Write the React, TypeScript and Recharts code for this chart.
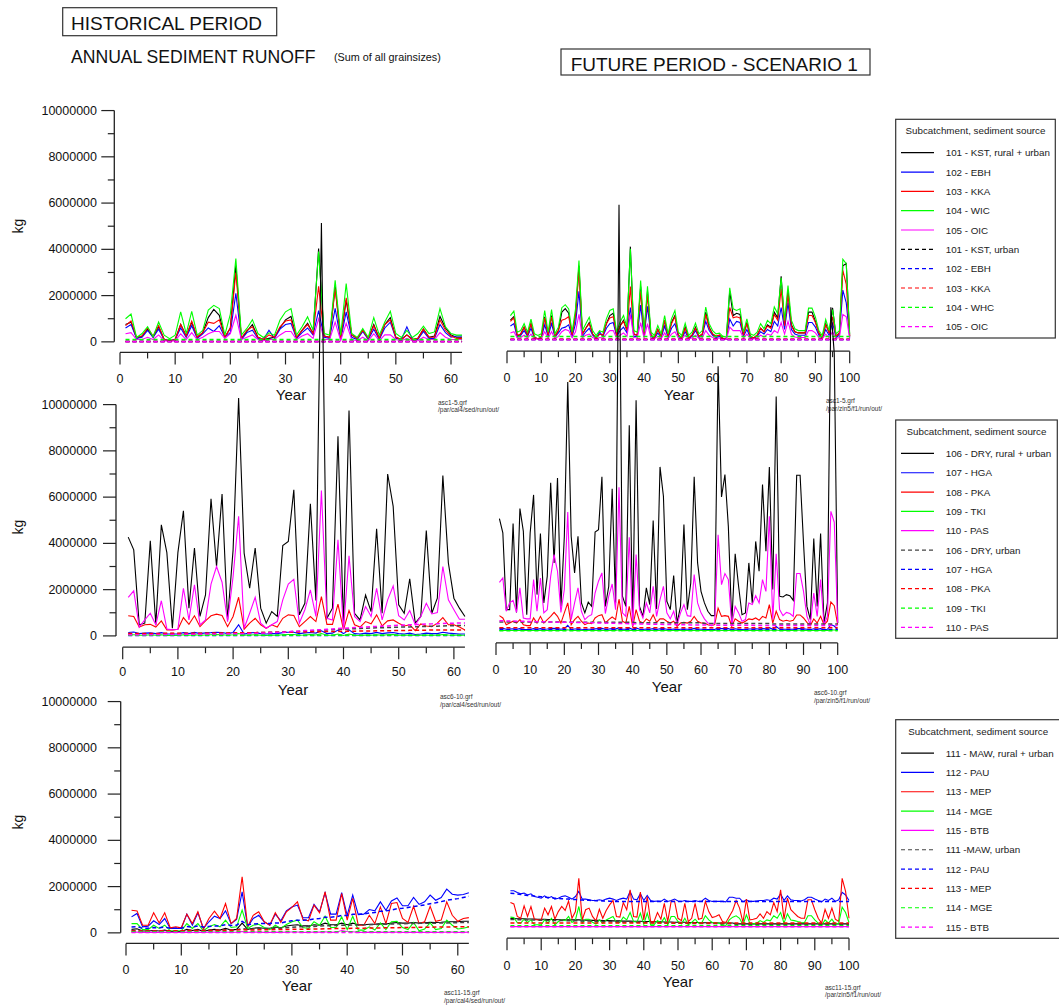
import React from 'react';
import { LineChart, Line, XAxis, YAxis, ReferenceLine } from 'recharts';

const FONT = '"Liberation Sans", Arial, Helvetica, sans-serif';

// ---------- categories ----------
const histYears = Array.from({ length: 62 }, (_, i) => i + 1);
const futYears = Array.from({ length: 100 }, (_, i) => i + 1);
const histXTicks = [0, 5, 10, 15, 20, 25, 30, 35, 40, 45, 50, 55, 60];
const futXTicks = [0, 5, 10, 15, 20, 25, 30, 35, 40, 45, 50, 55, 60, 65, 70, 75, 80, 85, 90, 95, 100];
const yTicks = [0, 1, 2, 3, 4, 5, 6, 7, 8, 9, 10]; // million kg
const yTickLabels = ['0', '2000000', '4000000', '6000000', '8000000', '10000000'];

// ---------- values (million kg) ----------
// Panel 1 historical: 101-105
const h1KST = [0.75,0.85,0.15,0.25,0.55,0.2,0.65,0.1,0.05,0.1,0.75,0.25,0.85,0.2,0.4,1.05,1.4,1.15,0.2,0.6,3.3,0.15,0.45,0.75,0.2,0.1,0.15,0.2,0.6,0.95,1.1,0.15,0.5,0.8,0.35,4.03,0.25,0.2,2.4,0.15,1.8,0.3,0.15,0.5,0.15,0.75,0.15,0.75,1.05,0.2,0.1,0.3,0.1,0.15,0.55,0.2,0.25,1.1,0.6,0.3,0.2,0.2];
const h1EBH = [0.6,0.75,0.15,0.2,0.5,0.2,0.55,0.1,0.05,0.1,0.6,0.2,0.7,0.15,0.35,0.6,0.45,0.7,0.2,0.4,2.1,0.1,0.4,0.5,0.15,0.1,0.5,0.15,0.55,0.75,0.8,0.15,0.4,0.6,0.3,1.35,0.2,0.15,1.45,0.1,1.3,0.2,0.1,0.45,0.1,0.55,0.1,0.6,0.85,0.15,0.1,0.65,0.1,0.1,0.45,0.15,0.15,0.75,0.4,0.2,0.25,0.25];
const h1KKA = [0.7,0.9,0.2,0.25,0.6,0.25,0.7,0.1,0.05,0.1,0.75,0.25,0.9,0.2,0.4,0.85,0.8,0.95,0.2,0.6,3.0,0.15,0.5,0.65,0.2,0.1,0.3,0.2,0.65,0.9,0.95,0.2,0.5,0.75,0.35,2.4,0.25,0.2,2.3,0.15,1.9,0.3,0.15,0.5,0.15,0.7,0.15,0.75,0.95,0.2,0.1,0.3,0.1,0.15,0.55,0.2,0.2,0.95,0.5,0.25,0.15,0.15];
const h1WIC = [1.0,1.2,0.19,0.36,0.65,0.22,0.86,0.29,0.14,0.29,1.3,0.36,1.32,0.29,0.5,1.37,1.58,1.44,0.29,1.2,3.6,0.29,0.58,0.96,0.36,0.19,0.39,0.29,0.94,1.3,1.44,0.29,0.65,1.08,0.5,3.9,0.36,0.29,2.66,0.29,2.52,0.36,0.19,0.58,0.19,1.05,0.29,0.86,1.32,0.36,0.19,0.5,0.19,0.36,0.68,0.36,0.43,1.44,0.65,0.36,0.29,0.29];
const h1OIC = [0.35,0.4,0.1,0.1,0.2,0.1,0.3,0.05,0.02,0.05,0.35,0.1,0.4,0.1,0.2,0.35,0.45,0.45,0.15,0.35,1.15,0.1,0.2,0.3,0.1,0.05,0.1,0.1,0.3,0.45,0.45,0.1,0.25,0.35,0.15,1.0,0.1,0.1,0.85,0.05,0.8,0.1,0.05,0.2,0.05,0.35,0.05,0.3,0.3,0.1,0.05,0.15,0.05,0.05,0.2,0.1,0.1,0.4,0.2,0.1,0.1,0.1];
const h1KSTu = [0.02,0.02,0.02,0.02,0.02,0.02,0.02,0.02,0.02,0.02,0.02,0.02,0.02,0.02,0.02,0.02,0.02,0.02,0.02,0.02,0.02,0.02,0.02,0.02,0.02,0.02,0.02,0.02,0.02,0.02,0.02,0.02,0.02,0.02,0.02,0.02,0.02,0.02,0.02,0.02,0.02,0.02,0.02,0.02,0.02,0.02,0.02,0.02,0.02,0.02,0.02,0.02,0.02,0.02,0.02,0.02,0.02,0.02,0.02,0.02,0.02,0.02];
const h1EBHu = [0.01,0.01,0.01,0.01,0.01,0.01,0.01,0.01,0.01,0.01,0.01,0.01,0.01,0.01,0.01,0.01,0.01,0.01,0.01,0.01,0.01,0.01,0.01,0.01,0.01,0.01,0.01,0.01,0.01,0.01,0.01,0.01,0.01,0.01,0.01,0.01,0.01,0.01,0.01,0.01,0.01,0.01,0.01,0.01,0.01,0.01,0.01,0.01,0.01,0.01,0.01,0.01,0.01,0.01,0.01,0.01,0.01,0.01,0.01,0.01,0.01,0.01];
const h1KKAu = [0.02,0.02,0.02,0.02,0.02,0.02,0.02,0.02,0.02,0.02,0.02,0.02,0.02,0.02,0.02,0.02,0.02,0.02,0.02,0.02,0.02,0.02,0.02,0.02,0.02,0.02,0.02,0.02,0.02,0.02,0.02,0.02,0.02,0.02,0.02,0.02,0.02,0.02,0.02,0.02,0.02,0.02,0.02,0.02,0.02,0.02,0.02,0.02,0.02,0.02,0.02,0.02,0.02,0.02,0.02,0.02,0.02,0.02,0.02,0.02,0.02,0.02];
const h1WHCu = [0.1,0.1,0.1,0.1,0.1,0.1,0.1,0.1,0.1,0.1,0.1,0.1,0.1,0.1,0.1,0.1,0.1,0.1,0.1,0.1,0.1,0.1,0.1,0.1,0.1,0.1,0.1,0.1,0.1,0.1,0.1,0.1,0.1,0.1,0.1,0.1,0.1,0.1,0.1,0.1,0.1,0.1,0.1,0.1,0.1,0.1,0.1,0.1,0.1,0.1,0.1,0.1,0.1,0.1,0.1,0.1,0.1,0.1,0.1,0.1,0.1,0.1];
const h1OICu = [0,0,0,0,0,0,0,0,0,0,0,0,0,0,0,0,0,0,0,0,0,0,0,0,0,0,0,0,0,0,0,0,0,0,0,0,0,0,0,0,0,0,0,0,0,0,0,0,0,0,0,0,0,0,0,0,0,0,0,0,0,0];

// Panel 1 future
const f1KST = [0.85,1.0,0.15,0.25,0.55,0.2,0.7,0.1,0.05,0.1,1.0,0.2,1.05,0.15,0.4,1.2,1.35,1.15,0.2,1.1,3.2,0.25,0.5,0.75,0.25,0.08,0.25,0.2,0.7,1.05,1.15,0.2,0.6,0.85,0.4,4.03,0.25,0.2,2.3,0.2,2.1,0.2,0.08,0.45,0.15,0.85,0.15,0.75,1.05,0.2,0.08,0.55,0.08,0.2,0.55,0.15,0.25,1.2,0.55,0.25,0.15,0.2,0.05,0.03,2.1,1.05,1.15,1.1,0.2,0.75,0.15,0.08,0.2,0.5,0.35,0.65,0.55,1.2,0.95,2.75,0.65,2.1,0.65,0.35,0.3,0.3,0.3,1.2,1.2,0.8,0.3,0.08,0.7,0.3,1.38,0.15,0.3,3.2,3.3,0.15];
const f1EBH = [0.6,0.7,0.12,0.2,0.4,0.15,0.5,0.08,0.05,0.08,0.65,0.15,0.7,0.12,0.3,0.5,0.55,0.65,0.15,0.7,2.1,0.15,0.35,0.5,0.2,0.06,0.35,0.15,0.5,0.7,0.75,0.15,0.4,0.55,0.3,1.4,0.15,0.15,1.5,0.15,1.45,0.15,0.06,0.3,0.1,0.6,0.1,0.5,0.7,0.15,0.06,0.35,0.06,0.15,0.4,0.1,0.2,0.8,0.4,0.2,0.1,0.15,0.04,0.03,0.9,0.6,0.8,0.75,0.15,0.45,0.1,0.06,0.15,0.35,0.25,0.45,0.35,0.8,0.6,1.4,0.45,1.6,0.45,0.25,0.2,0.2,0.2,0.75,0.75,0.55,0.2,0.06,0.45,0.2,0.75,0.1,0.2,2.15,1.6,0.1];
const f1KKA = [0.8,0.95,0.2,0.25,0.55,0.2,0.7,0.1,0.05,0.1,0.95,0.2,1.0,0.15,0.4,0.85,0.9,1.0,0.2,1.05,3.0,0.25,0.5,0.7,0.25,0.08,0.25,0.2,0.7,0.95,1.0,0.2,0.6,0.8,0.4,2.3,0.25,0.2,2.1,0.2,1.95,0.2,0.08,0.45,0.15,0.85,0.15,0.7,1.0,0.2,0.08,0.5,0.08,0.2,0.5,0.15,0.25,1.1,0.5,0.25,0.15,0.2,0.05,0.03,1.4,0.95,1.0,0.95,0.2,0.7,0.15,0.08,0.2,0.5,0.35,0.6,0.5,1.1,0.85,2.2,0.6,2.0,0.6,0.35,0.3,0.3,0.3,1.05,1.05,0.75,0.3,0.08,0.65,0.3,1.0,0.15,0.3,3.0,2.4,0.15];
const f1WIC = [1.05,1.24,0.33,0.4,0.7,0.33,0.9,0.26,0.19,0.26,1.27,0.33,1.31,0.26,0.55,1.39,1.52,1.34,0.33,1.34,3.43,0.4,0.7,0.98,0.4,0.19,0.4,0.33,0.91,1.27,1.34,0.33,0.77,1.05,0.55,3.94,0.4,0.33,2.57,0.33,2.32,0.33,0.19,0.62,0.26,1.05,0.26,0.91,1.27,0.33,0.19,0.72,0.19,0.33,0.72,0.26,0.4,1.42,0.7,0.4,0.26,0.29,0.15,0.12,2.25,1.34,1.27,1.34,0.33,0.91,0.26,0.19,0.33,0.7,0.48,0.84,0.7,1.42,1.13,2.68,0.84,2.35,0.84,0.48,0.4,0.4,0.4,1.37,1.37,0.98,0.4,0.19,0.88,0.4,1.31,0.26,0.4,3.48,3.29,0.26];
const f1OIC = [0.3,0.35,0.08,0.1,0.2,0.08,0.25,0.05,0.03,0.05,0.35,0.08,0.35,0.06,0.15,0.35,0.45,0.4,0.1,0.35,1.1,0.1,0.2,0.25,0.1,0.04,0.1,0.08,0.25,0.4,0.4,0.08,0.2,0.3,0.15,1.1,0.1,0.08,0.75,0.08,0.7,0.08,0.04,0.15,0.06,0.3,0.06,0.25,0.35,0.08,0.04,0.2,0.04,0.08,0.2,0.06,0.1,0.4,0.2,0.1,0.06,0.08,0.03,0.02,0.55,0.4,0.4,0.4,0.08,0.25,0.06,0.04,0.08,0.2,0.12,0.25,0.2,0.4,0.3,0.75,0.25,0.8,0.25,0.12,0.1,0.1,0.1,0.4,0.4,0.3,0.1,0.04,0.25,0.1,0.35,0.06,0.1,1.1,1.0,0.06];
const f1KSTu = [0.02,0.02,0.02,0.02,0.02,0.02,0.02,0.02,0.02,0.02,0.02,0.02,0.02,0.02,0.02,0.02,0.02,0.02,0.02,0.02,0.02,0.02,0.02,0.02,0.02,0.02,0.02,0.02,0.02,0.02,0.02,0.02,0.02,0.02,0.02,0.02,0.02,0.02,0.02,0.02,0.02,0.02,0.02,0.02,0.02,0.02,0.02,0.02,0.02,0.02,0.02,0.02,0.02,0.02,0.02,0.02,0.02,0.02,0.02,0.02,0.02,0.02,0.02,0.02,0.02,0.02,0.02,0.02,0.02,0.02,0.02,0.02,0.02,0.02,0.02,0.02,0.02,0.02,0.02,0.02,0.02,0.02,0.02,0.02,0.02,0.02,0.02,0.02,0.02,0.02,0.02,0.02,0.02,0.02,0.02,0.02,0.02,0.02,0.02,0.02];
const f1EBHu = [0.02,0.02,0.02,0.02,0.02,0.02,0.02,0.02,0.02,0.02,0.02,0.02,0.02,0.02,0.02,0.02,0.02,0.02,0.02,0.02,0.02,0.02,0.02,0.02,0.02,0.02,0.02,0.02,0.02,0.02,0.02,0.02,0.02,0.02,0.02,0.02,0.02,0.02,0.02,0.02,0.02,0.02,0.02,0.02,0.02,0.02,0.02,0.02,0.02,0.02,0.02,0.02,0.02,0.02,0.02,0.02,0.02,0.02,0.02,0.02,0.02,0.02,0.02,0.02,0.02,0.02,0.02,0.02,0.02,0.02,0.02,0.02,0.02,0.02,0.02,0.02,0.02,0.02,0.02,0.02,0.02,0.02,0.02,0.02,0.02,0.02,0.02,0.02,0.02,0.02,0.02,0.02,0.02,0.02,0.02,0.02,0.02,0.02,0.02,0.02];
const f1KKAu = [0.03,0.03,0.03,0.03,0.03,0.03,0.03,0.03,0.03,0.03,0.03,0.03,0.03,0.03,0.03,0.03,0.03,0.03,0.03,0.03,0.03,0.03,0.03,0.03,0.03,0.03,0.03,0.03,0.03,0.03,0.03,0.03,0.03,0.03,0.03,0.03,0.03,0.03,0.03,0.03,0.03,0.03,0.03,0.03,0.03,0.03,0.03,0.03,0.03,0.03,0.03,0.03,0.03,0.03,0.03,0.03,0.03,0.03,0.03,0.03,0.03,0.03,0.03,0.03,0.03,0.03,0.03,0.03,0.03,0.03,0.03,0.03,0.03,0.03,0.03,0.03,0.03,0.03,0.03,0.03,0.03,0.03,0.03,0.03,0.03,0.03,0.03,0.03,0.03,0.03,0.03,0.03,0.03,0.03,0.03,0.03,0.03,0.03,0.03,0.03];
const f1WHCu = [0.15,0.15,0.15,0.15,0.15,0.15,0.15,0.15,0.15,0.15,0.15,0.15,0.15,0.15,0.15,0.15,0.15,0.15,0.15,0.15,0.15,0.15,0.15,0.15,0.15,0.15,0.15,0.15,0.15,0.15,0.15,0.15,0.15,0.15,0.15,0.15,0.15,0.15,0.15,0.15,0.15,0.15,0.15,0.15,0.15,0.15,0.15,0.15,0.15,0.15,0.15,0.15,0.15,0.15,0.15,0.15,0.15,0.15,0.15,0.15,0.15,0.15,0.15,0.15,0.15,0.15,0.15,0.15,0.15,0.15,0.15,0.15,0.15,0.15,0.15,0.15,0.15,0.15,0.15,0.15,0.15,0.15,0.15,0.15,0.15,0.15,0.15,0.15,0.15,0.15,0.15,0.15,0.15,0.15,0.15,0.15,0.15,0.15,0.15,0.15];
const f1OICu = [0,0,0,0,0,0,0,0,0,0,0,0,0,0,0,0,0,0,0,0,0,0,0,0,0,0,0,0,0,0,0,0,0,0,0,0,0,0,0,0,0,0,0,0,0,0,0,0,0,0,0,0,0,0,0,0,0,0,0,0,0,0,0,0,0,0,0,0,0,0,0,0,0,0,0,0,0,0,0,0,0,0,0,0,0,0,0,0,0,0,0,0,0,0,0,0,0,0,0,0];

// Panel 2 historical: 106-110
const h2DRY = [4.27,3.72,0.48,0.55,4.11,0.48,4.8,3.6,0.33,3.6,5.41,1.2,3.8,0.84,1.77,5.93,3.0,6.13,0.69,3.72,10.29,3.58,2.06,3.8,1.2,0.55,1.05,0.84,3.91,4.08,6.32,0.91,1.41,5.71,1.53,17.85,0.76,1.2,8.63,0.4,9.74,0.98,0.69,1.77,1.05,4.63,0.98,7.0,5.6,1.34,0.98,2.47,0.55,0.84,4.56,0.98,1.63,6.93,3.15,1.63,1.2,0.84];
const h2HGA = [0.15,0.17,0.1,0.12,0.13,0.1,0.14,0.08,0.08,0.08,0.14,0.1,0.15,0.1,0.13,0.14,0.16,0.15,0.1,0.15,0.48,0.08,0.13,0.15,0.1,0.08,0.1,0.1,0.14,0.16,0.16,0.1,0.13,0.15,0.12,0.22,0.1,0.12,0.25,0.1,0.26,0.1,0.08,0.12,0.1,0.15,0.1,0.13,0.15,0.1,0.08,0.12,0.06,0.08,0.12,0.1,0.1,0.16,0.12,0.1,0.08,0.08];
const h2PKA = [0.87,0.84,0.38,0.48,0.5,0.38,0.65,0.26,0.26,0.29,0.79,0.5,0.87,0.4,0.65,0.87,0.94,0.88,0.4,0.84,1.67,0.29,0.55,0.76,0.48,0.33,0.48,0.38,0.76,0.91,0.88,0.4,0.62,0.84,0.62,1.7,0.5,0.5,1.37,0.26,1.1,0.48,0.38,0.62,0.52,0.91,0.43,0.65,0.69,0.55,0.43,0.48,0.23,0.52,0.43,0.4,0.55,0.79,0.48,0.48,0.38,0.26];
const h2TKI = [0.05,0.05,0.03,0.03,0.05,0.03,0.05,0.02,0.02,0.02,0.05,0.03,0.05,0.03,0.04,0.05,0.06,0.05,0.03,0.05,0.1,0.03,0.04,0.05,0.03,0.02,0.03,0.03,0.05,0.06,0.06,0.03,0.04,0.06,0.04,0.1,0.03,0.03,0.08,0.02,0.08,0.03,0.02,0.04,0.03,0.05,0.03,0.05,0.06,0.03,0.03,0.04,0.02,0.03,0.04,0.03,0.03,0.06,0.04,0.03,0.03,0.03];
const h2PAS = [1.67,1.95,0.38,0.69,0.98,0.48,1.52,0.3,0.26,0.29,2.06,0.69,2.21,0.48,0.69,2.24,3.0,2.32,0.62,2.57,5.17,0.33,0.98,1.67,0.55,0.33,0.48,0.62,1.56,2.24,2.45,0.55,1.13,1.99,0.84,6.28,0.76,0.69,4.16,0.26,3.46,0.84,0.62,1.27,0.84,2.06,0.69,1.56,2.16,0.87,0.69,1.1,0.48,0.84,1.41,0.95,1.01,3.0,1.56,1.13,0.72,0.72];
const h2DRYu = [0.08,0.08,0.08,0.09,0.09,0.09,0.09,0.1,0.1,0.1,0.1,0.1,0.11,0.11,0.11,0.12,0.12,0.12,0.12,0.13,0.13,0.13,0.14,0.14,0.15,0.15,0.16,0.16,0.17,0.18,0.19,0.2,0.21,0.22,0.23,0.25,0.26,0.27,0.28,0.29,0.3,0.31,0.32,0.33,0.34,0.35,0.35,0.36,0.37,0.38,0.38,0.39,0.4,0.4,0.41,0.42,0.42,0.43,0.44,0.44,0.45,0.45];
const h2HGAu = [0.02,0.02,0.02,0.02,0.02,0.02,0.02,0.02,0.02,0.02,0.02,0.02,0.02,0.02,0.02,0.02,0.02,0.02,0.02,0.02,0.02,0.02,0.02,0.02,0.02,0.02,0.02,0.02,0.02,0.02,0.02,0.02,0.02,0.02,0.02,0.02,0.02,0.02,0.02,0.02,0.02,0.02,0.02,0.02,0.02,0.02,0.02,0.02,0.02,0.02,0.02,0.02,0.02,0.02,0.02,0.02,0.02,0.02,0.02,0.02,0.02,0.02];
const h2PKAu = [0.1,0.1,0.1,0.1,0.1,0.1,0.11,0.11,0.11,0.11,0.11,0.12,0.12,0.12,0.12,0.12,0.13,0.13,0.13,0.13,0.14,0.14,0.14,0.14,0.15,0.15,0.15,0.16,0.16,0.16,0.17,0.17,0.17,0.18,0.18,0.18,0.19,0.19,0.19,0.2,0.2,0.2,0.21,0.21,0.21,0.22,0.22,0.22,0.23,0.23,0.23,0.24,0.24,0.24,0.25,0.25,0.25,0.26,0.26,0.26,0.26,0.26];
const h2TKIu = [0.03,0.03,0.03,0.03,0.03,0.03,0.03,0.03,0.03,0.03,0.03,0.03,0.03,0.03,0.03,0.03,0.03,0.03,0.03,0.03,0.03,0.03,0.03,0.03,0.03,0.03,0.03,0.03,0.03,0.03,0.03,0.03,0.03,0.03,0.03,0.03,0.03,0.03,0.03,0.03,0.03,0.03,0.03,0.03,0.03,0.03,0.03,0.03,0.03,0.03,0.03,0.03,0.03,0.03,0.03,0.03,0.03,0.03,0.03,0.03,0.03,0.03];
const h2PASu = [0.05,0.05,0.05,0.05,0.05,0.06,0.06,0.06,0.06,0.06,0.07,0.07,0.07,0.07,0.08,0.08,0.08,0.08,0.09,0.09,0.09,0.1,0.1,0.11,0.12,0.13,0.14,0.15,0.16,0.18,0.2,0.21,0.23,0.24,0.26,0.27,0.29,0.3,0.32,0.33,0.34,0.36,0.37,0.38,0.4,0.41,0.42,0.43,0.45,0.46,0.47,0.48,0.49,0.5,0.51,0.52,0.53,0.54,0.55,0.55,0.56,0.56];

// Panel 2 future
const f2DRY = [4.87,4.25,0.93,0.93,4.65,0.81,5.3,4.32,0.71,4.25,5.89,1.58,4.22,1.22,2.37,6.41,2.95,6.62,1.07,4.1,10.77,4.1,2.52,4.1,1.22,0.79,1.25,1.07,4.28,4.39,6.67,1.07,1.94,6.16,1.22,18.44,1.51,1.07,8.9,0.35,9.98,1.07,0.64,1.87,1.15,4.78,0.96,7.1,5.83,1.29,0.93,2.4,0.35,1.07,4.61,0.93,2.08,6.67,2.95,1.72,1.22,0.86,0.67,0.67,11.45,5.8,6.77,4.53,0.35,3.34,1.94,0.71,0.79,2.95,1.22,3.88,2.59,6.34,3.46,7.1,1.8,10.15,1.51,1.48,1.58,1.53,1.33,6.74,6.74,3.81,1.07,0.5,4.0,1.07,4.22,0.35,1.22,14.0,12.0,0.35];
const f2HGA = [0.12,0.12,0.08,0.09,0.1,0.08,0.11,0.07,0.07,0.07,0.11,0.08,0.11,0.08,0.09,0.11,0.12,0.11,0.08,0.11,0.25,0.07,0.09,0.1,0.08,0.07,0.08,0.08,0.1,0.11,0.12,0.08,0.09,0.11,0.09,0.15,0.08,0.08,0.14,0.07,0.14,0.08,0.07,0.09,0.08,0.11,0.07,0.1,0.11,0.08,0.07,0.09,0.06,0.08,0.09,0.08,0.08,0.12,0.09,0.08,0.08,0.07,0.07,0.07,0.14,0.11,0.12,0.11,0.06,0.1,0.08,0.07,0.08,0.09,0.09,0.1,0.09,0.11,0.1,0.15,0.08,0.2,0.09,0.08,0.08,0.08,0.08,0.11,0.11,0.1,0.08,0.06,0.1,0.08,0.11,0.06,0.08,0.28,0.22,0.07];
const f2PKA = [0.67,0.57,0.28,0.35,0.43,0.35,0.5,0.28,0.24,0.24,0.57,0.35,0.64,0.35,0.5,0.64,0.81,0.64,0.35,0.79,1.22,0.28,0.5,0.64,0.43,0.28,0.35,0.32,0.57,0.67,0.71,0.35,0.5,0.61,0.5,1.39,0.43,0.35,1.07,0.18,0.93,0.43,0.35,0.53,0.43,0.71,0.38,0.53,0.53,0.43,0.35,0.43,0.21,0.35,0.38,0.35,0.43,0.64,0.43,0.35,0.35,0.28,0.24,0.28,1.0,0.64,0.67,0.64,0.21,0.53,0.43,0.35,0.43,0.53,0.5,0.57,0.47,0.64,0.57,1.15,0.35,0.86,0.5,0.43,0.47,0.43,0.47,0.7,0.7,0.57,0.38,0.24,0.53,0.35,0.64,0.28,0.43,1.26,1.1,0.28];
const f2TKI = [0.03,0.03,0.03,0.03,0.03,0.03,0.03,0.03,0.03,0.03,0.03,0.03,0.03,0.03,0.03,0.03,0.04,0.03,0.03,0.03,0.06,0.03,0.03,0.03,0.03,0.03,0.03,0.03,0.03,0.03,0.04,0.03,0.03,0.03,0.03,0.06,0.03,0.03,0.04,0.03,0.04,0.03,0.03,0.03,0.03,0.03,0.03,0.03,0.03,0.03,0.03,0.03,0.03,0.03,0.03,0.03,0.03,0.04,0.03,0.03,0.03,0.03,0.03,0.03,0.05,0.03,0.04,0.03,0.03,0.03,0.03,0.03,0.03,0.03,0.03,0.03,0.03,0.04,0.03,0.05,0.03,0.05,0.03,0.03,0.03,0.03,0.03,0.04,0.04,0.03,0.03,0.03,0.03,0.03,0.03,0.03,0.03,0.06,0.05,0.03];
const f2PAS = [2.11,2.3,0.86,1.22,1.33,0.81,1.87,0.57,0.53,0.53,2.23,0.86,2.3,0.79,0.93,2.37,3.31,2.59,0.81,1.8,5.15,0.5,1.22,1.87,0.86,0.5,0.64,0.71,1.65,2.16,2.52,0.76,1.51,2.04,0.93,6.22,0.79,0.64,4.06,0.21,3.31,0.93,0.57,1.22,0.79,1.94,0.64,1.36,1.94,0.79,0.53,0.86,0.28,0.79,1.15,0.67,0.64,2.45,1.22,0.79,0.53,0.35,0.32,0.35,4.17,2.01,2.49,2.23,0.28,1.07,0.79,0.43,0.5,1.22,1.15,1.53,1.22,2.23,1.72,4.97,0.5,3.35,0.93,0.67,0.81,0.76,0.64,2.49,2.49,1.72,0.64,0.28,1.65,0.64,2.23,0.28,0.64,5.18,4.71,0.35];
const f2DRYu = [0.4,0.4,0.4,0.4,0.4,0.4,0.4,0.4,0.4,0.4,0.4,0.4,0.4,0.4,0.4,0.4,0.4,0.4,0.4,0.4,0.38,0.38,0.38,0.38,0.38,0.38,0.38,0.38,0.38,0.38,0.38,0.38,0.38,0.38,0.38,0.38,0.38,0.38,0.38,0.38,0.36,0.36,0.36,0.36,0.36,0.36,0.36,0.36,0.36,0.36,0.36,0.36,0.36,0.36,0.36,0.36,0.36,0.36,0.36,0.36,0.33,0.33,0.33,0.33,0.33,0.33,0.33,0.33,0.33,0.33,0.33,0.33,0.33,0.33,0.33,0.33,0.33,0.33,0.33,0.33,0.31,0.31,0.31,0.31,0.31,0.31,0.31,0.31,0.31,0.31,0.31,0.31,0.31,0.31,0.31,0.31,0.31,0.31,0.31,0.31];
const f2HGAu = [0.07,0.07,0.07,0.07,0.07,0.07,0.07,0.07,0.07,0.07,0.07,0.07,0.07,0.07,0.07,0.07,0.07,0.07,0.07,0.07,0.07,0.07,0.07,0.07,0.07,0.07,0.07,0.07,0.07,0.07,0.07,0.07,0.07,0.07,0.07,0.07,0.07,0.07,0.07,0.07,0.07,0.07,0.07,0.07,0.07,0.07,0.07,0.07,0.07,0.07,0.07,0.07,0.07,0.07,0.07,0.07,0.07,0.07,0.07,0.07,0.07,0.07,0.07,0.07,0.07,0.07,0.07,0.07,0.07,0.07,0.07,0.07,0.07,0.07,0.07,0.07,0.07,0.07,0.07,0.07,0.07,0.07,0.07,0.07,0.07,0.07,0.07,0.07,0.07,0.07,0.07,0.07,0.07,0.07,0.07,0.07,0.07,0.07,0.07,0.07];
const f2PKAu = [0.15,0.15,0.15,0.15,0.15,0.15,0.15,0.15,0.15,0.15,0.15,0.15,0.15,0.15,0.15,0.15,0.15,0.15,0.15,0.15,0.15,0.15,0.15,0.15,0.15,0.15,0.15,0.15,0.15,0.15,0.15,0.15,0.15,0.15,0.15,0.15,0.15,0.15,0.15,0.15,0.15,0.15,0.15,0.15,0.15,0.15,0.15,0.15,0.15,0.15,0.15,0.15,0.15,0.15,0.15,0.15,0.15,0.15,0.15,0.15,0.15,0.15,0.15,0.15,0.15,0.15,0.15,0.15,0.15,0.15,0.15,0.15,0.15,0.15,0.15,0.15,0.15,0.15,0.15,0.15,0.15,0.15,0.15,0.15,0.15,0.15,0.15,0.15,0.15,0.15,0.15,0.15,0.15,0.15,0.15,0.15,0.15,0.15,0.15,0.15];
const f2TKIu = [0.02,0.02,0.02,0.02,0.02,0.02,0.02,0.02,0.02,0.02,0.02,0.02,0.02,0.02,0.02,0.02,0.02,0.02,0.02,0.02,0.02,0.02,0.02,0.02,0.02,0.02,0.02,0.02,0.02,0.02,0.02,0.02,0.02,0.02,0.02,0.02,0.02,0.02,0.02,0.02,0.02,0.02,0.02,0.02,0.02,0.02,0.02,0.02,0.02,0.02,0.02,0.02,0.02,0.02,0.02,0.02,0.02,0.02,0.02,0.02,0.02,0.02,0.02,0.02,0.02,0.02,0.02,0.02,0.02,0.02,0.02,0.02,0.02,0.02,0.02,0.02,0.02,0.02,0.02,0.02,0.02,0.02,0.02,0.02,0.02,0.02,0.02,0.02,0.02,0.02,0.02,0.02,0.02,0.02,0.02,0.02,0.02,0.02,0.02,0.02];
const f2PASu = [0.45,0.45,0.44,0.44,0.44,0.43,0.43,0.43,0.42,0.42,0.42,0.41,0.41,0.41,0.4,0.4,0.4,0.39,0.39,0.39,0.38,0.38,0.38,0.37,0.37,0.37,0.36,0.36,0.36,0.35,0.35,0.35,0.34,0.34,0.34,0.33,0.33,0.33,0.32,0.32,0.32,0.31,0.31,0.31,0.3,0.3,0.3,0.3,0.29,0.29,0.29,0.29,0.28,0.28,0.28,0.28,0.27,0.27,0.27,0.27,0.27,0.26,0.26,0.26,0.26,0.26,0.26,0.25,0.25,0.25,0.25,0.25,0.25,0.25,0.25,0.24,0.24,0.24,0.24,0.24,0.24,0.24,0.24,0.24,0.24,0.24,0.24,0.24,0.24,0.24,0.24,0.24,0.24,0.24,0.24,0.24,0.24,0.24,0.24,0.24];

// Panel 3 historical: 111-115
const h3MAW = [0.15,0.18,0.08,0.08,0.1,0.08,0.12,0.06,0.06,0.06,0.15,0.1,0.15,0.06,0.12,0.15,0.12,0.2,0.12,0.15,0.42,0.15,0.2,0.22,0.2,0.2,0.25,0.22,0.3,0.33,0.35,0.3,0.3,0.35,0.33,0.42,0.35,0.35,0.42,0.35,0.42,0.35,0.35,0.37,0.37,0.4,0.38,0.42,0.45,0.42,0.42,0.45,0.42,0.44,0.46,0.45,0.46,0.48,0.48,0.48,0.5,0.5];
const h3PAU = [0.69,0.84,0.26,0.29,0.52,0.36,0.62,0.19,0.19,0.19,0.81,0.33,0.87,0.19,0.48,0.72,0.62,0.95,0.4,0.58,1.77,0.26,0.62,0.76,0.48,0.33,0.81,0.52,0.95,1.12,1.2,0.65,0.65,1.23,0.91,1.73,0.81,0.81,1.74,0.76,1.63,0.79,0.81,1.01,0.95,1.34,0.98,1.38,1.51,1.17,1.17,1.53,1.23,1.34,1.63,1.41,1.53,1.89,1.67,1.63,1.66,1.73];
const h3MEP = [0.98,0.95,0.33,0.33,0.87,0.43,0.87,0.22,0.26,0.22,0.81,0.4,0.91,0.16,0.62,0.94,0.62,1.27,0.4,0.62,2.42,0.26,0.76,0.91,0.48,0.33,0.87,0.45,0.91,1.1,1.34,0.58,0.52,1.2,0.87,1.77,0.55,0.55,1.7,0.55,1.49,0.33,0.33,0.76,0.4,1.12,0.4,1.27,1.31,0.62,0.45,1.15,0.4,0.48,1.15,0.5,0.55,1.34,0.76,0.5,0.62,0.66];
const h3MGE = [0.4,0.4,0.14,0.14,0.33,0.19,0.33,0.09,0.09,0.09,0.4,0.19,0.4,0.09,0.26,0.36,0.26,0.55,0.23,0.26,0.98,0.19,0.33,0.37,0.23,0.14,0.33,0.19,0.36,0.48,0.55,0.23,0.19,0.48,0.33,0.72,0.23,0.23,0.69,0.14,0.72,0.12,0.12,0.26,0.12,0.43,0.14,0.48,0.5,0.23,0.14,0.45,0.09,0.17,0.43,0.14,0.19,0.55,0.33,0.17,0.2,0.26];
const h3BTB = [0.03,0.03,0.02,0.02,0.03,0.02,0.03,0.02,0.02,0.02,0.03,0.02,0.03,0.02,0.03,0.03,0.03,0.04,0.02,0.03,0.06,0.02,0.03,0.03,0.02,0.02,0.03,0.02,0.03,0.04,0.04,0.02,0.02,0.04,0.03,0.05,0.02,0.03,0.1,0.06,0.05,0.02,0.02,0.03,0.02,0.03,0.02,0.03,0.04,0.02,0.02,0.03,0.02,0.02,0.03,0.02,0.02,0.04,0.03,0.02,0.02,0.03];
const h3MAWu = [0.1,0.1,0.08,0.08,0.08,0.08,0.09,0.08,0.08,0.08,0.1,0.1,0.11,0.1,0.11,0.12,0.12,0.13,0.13,0.14,0.18,0.15,0.17,0.18,0.18,0.19,0.2,0.2,0.22,0.24,0.26,0.26,0.27,0.28,0.29,0.31,0.31,0.32,0.33,0.33,0.34,0.34,0.35,0.35,0.36,0.37,0.37,0.38,0.39,0.39,0.4,0.4,0.41,0.41,0.42,0.42,0.43,0.43,0.44,0.44,0.45,0.45];
const h3PAUu = [0.25,0.27,0.2,0.2,0.23,0.22,0.25,0.2,0.2,0.2,0.27,0.25,0.3,0.25,0.28,0.3,0.3,0.35,0.32,0.33,0.5,0.35,0.38,0.4,0.4,0.4,0.43,0.43,0.48,0.52,0.55,0.55,0.56,0.6,0.62,0.68,0.68,0.7,0.75,0.75,0.8,0.8,0.82,0.86,0.88,0.93,0.95,0.99,1.04,1.06,1.1,1.14,1.17,1.21,1.26,1.3,1.35,1.41,1.44,1.48,1.53,1.58];
const h3MEPu = [0.08,0.08,0.08,0.08,0.08,0.09,0.09,0.09,0.09,0.09,0.1,0.1,0.1,0.1,0.1,0.11,0.11,0.11,0.11,0.12,0.14,0.12,0.12,0.13,0.13,0.13,0.14,0.14,0.14,0.15,0.16,0.16,0.16,0.17,0.17,0.18,0.18,0.19,0.19,0.19,0.2,0.2,0.2,0.21,0.21,0.21,0.22,0.22,0.22,0.23,0.23,0.23,0.24,0.24,0.24,0.25,0.25,0.25,0.26,0.26,0.26,0.26];
const h3MGEu = [0.05,0.05,0.05,0.05,0.05,0.05,0.05,0.05,0.05,0.05,0.05,0.05,0.05,0.05,0.05,0.05,0.05,0.05,0.05,0.05,0.05,0.05,0.05,0.05,0.05,0.05,0.05,0.05,0.05,0.05,0.05,0.05,0.05,0.05,0.05,0.05,0.05,0.05,0.05,0.05,0.05,0.05,0.05,0.05,0.05,0.05,0.05,0.05,0.05,0.05,0.05,0.05,0.05,0.05,0.05,0.05,0.05,0.05,0.05,0.05,0.05,0.05];
const h3BTBu = [0.01,0.01,0.01,0.01,0.01,0.01,0.01,0.01,0.01,0.01,0.01,0.01,0.01,0.01,0.01,0.01,0.01,0.01,0.01,0.01,0.01,0.01,0.01,0.01,0.01,0.01,0.01,0.01,0.01,0.01,0.01,0.01,0.01,0.01,0.01,0.01,0.01,0.01,0.01,0.01,0.01,0.01,0.01,0.01,0.01,0.01,0.01,0.01,0.01,0.01,0.01,0.01,0.01,0.01,0.01,0.01,0.01,0.01,0.01,0.01,0.01,0.01];

// Panel 3 future
const f3MAW = [0.36,0.36,0.35,0.35,0.35,0.34,0.34,0.34,0.33,0.33,0.33,0.32,0.32,0.32,0.31,0.31,0.31,0.3,0.3,0.3,0.3,0.29,0.29,0.29,0.28,0.28,0.28,0.27,0.27,0.27,0.26,0.26,0.26,0.25,0.25,0.25,0.24,0.24,0.24,0.23,0.23,0.23,0.22,0.22,0.22,0.21,0.21,0.21,0.2,0.2,0.2,0.2,0.19,0.19,0.19,0.19,0.18,0.18,0.18,0.18,0.18,0.17,0.17,0.17,0.17,0.17,0.13,0.13,0.13,0.13,0.13,0.13,0.13,0.13,0.13,0.13,0.13,0.13,0.13,0.13,0.13,0.13,0.13,0.13,0.13,0.13,0.13,0.13,0.13,0.13,0.13,0.13,0.13,0.13,0.13,0.13,0.13,0.13,0.13,0.13];
const f3PAU = [1.56,1.56,1.49,1.43,1.46,1.38,1.43,1.31,1.28,1.24,1.34,1.24,1.31,1.2,1.24,1.31,1.34,1.28,1.2,1.31,1.53,1.2,1.2,1.17,1.14,1.14,1.17,1.14,1.2,1.24,1.2,1.14,1.2,1.24,1.2,1.53,1.2,1.17,1.43,1.14,1.36,1.14,1.1,1.12,1.1,1.2,1.1,1.14,1.2,1.12,1.1,1.14,1.1,1.1,1.14,1.1,1.12,1.24,1.14,1.1,1.1,1.1,1.1,1.08,1.28,1.28,1.24,1.24,1.08,1.17,1.1,1.1,1.12,1.14,1.14,1.17,1.14,1.24,1.2,1.43,1.14,1.34,1.17,1.14,1.14,1.12,1.17,1.28,1.28,1.2,1.14,1.08,1.2,1.14,1.24,1.1,1.17,1.49,1.38,1.14];
const f3MEP = [1.05,0.99,0.45,0.37,0.91,0.45,0.88,0.33,0.3,0.3,0.81,0.52,0.88,0.33,0.66,0.88,0.71,1.12,0.37,0.66,2.1,0.3,0.74,0.81,0.45,0.26,0.76,0.37,0.71,0.95,1.14,0.45,0.42,1.05,0.74,1.6,0.45,0.42,1.5,0.3,1.31,0.23,0.23,0.62,0.33,1.02,0.23,1.1,1.1,0.37,0.27,1.02,0.23,0.37,1.02,0.33,0.37,1.1,0.66,0.4,0.45,0.52,0.23,0.19,0.45,0.71,1.14,0.81,0.19,1.2,0.3,0.33,0.37,0.56,0.37,0.66,0.52,1.05,0.66,1.6,0.33,1.24,0.74,0.59,0.45,0.37,0.37,1.17,1.17,0.74,0.37,0.16,0.76,0.37,0.81,0.33,0.23,2.1,1.53,0.37];
const f3MGE = [0.42,0.4,0.19,0.16,0.33,0.19,0.3,0.09,0.09,0.09,0.3,0.16,0.37,0.09,0.23,0.3,0.27,0.45,0.19,0.3,0.88,0.16,0.33,0.33,0.2,0.12,0.3,0.16,0.3,0.37,0.45,0.19,0.19,0.42,0.3,0.62,0.23,0.2,0.59,0.12,0.59,0.09,0.09,0.27,0.16,0.4,0.09,0.45,0.45,0.23,0.13,0.37,0.09,0.19,0.33,0.16,0.19,0.48,0.3,0.19,0.19,0.16,0.09,0.06,0.3,0.42,0.48,0.37,0.09,0.52,0.16,0.13,0.16,0.27,0.19,0.3,0.26,0.48,0.37,0.62,0.16,0.56,0.3,0.27,0.23,0.2,0.19,0.48,0.48,0.3,0.16,0.06,0.3,0.16,0.33,0.12,0.16,0.85,0.62,0.19];
const f3BTB = [0.01,0.01,0.01,0.01,0.01,0.01,0.01,0.01,0.01,0.01,0.01,0.01,0.01,0.01,0.01,0.01,0.01,0.01,0.01,0.01,0.01,0.01,0.01,0.01,0.01,0.01,0.01,0.01,0.01,0.01,0.01,0.01,0.01,0.01,0.01,0.01,0.01,0.01,0.01,0.01,0.01,0.01,0.01,0.01,0.01,0.01,0.01,0.01,0.01,0.01,0.01,0.01,0.01,0.01,0.01,0.01,0.01,0.01,0.01,0.01,0.01,0.01,0.01,0.01,0.01,0.01,0.01,0.01,0.01,0.01,0.01,0.01,0.01,0.01,0.01,0.01,0.01,0.01,0.01,0.01,0.01,0.01,0.01,0.01,0.01,0.01,0.01,0.01,0.01,0.01,0.01,0.01,0.01,0.01,0.01,0.01,0.01,0.01,0.01,0.01];
const f3MAWu = [0.32,0.32,0.31,0.31,0.31,0.3,0.3,0.3,0.29,0.29,0.29,0.28,0.28,0.28,0.27,0.27,0.27,0.26,0.26,0.26,0.26,0.25,0.25,0.25,0.24,0.24,0.24,0.23,0.23,0.23,0.22,0.22,0.22,0.21,0.21,0.21,0.2,0.2,0.2,0.19,0.19,0.19,0.18,0.18,0.18,0.17,0.17,0.17,0.16,0.16,0.16,0.16,0.15,0.15,0.15,0.15,0.14,0.14,0.14,0.14,0.14,0.13,0.13,0.13,0.13,0.13,0.11,0.11,0.11,0.11,0.11,0.11,0.11,0.11,0.11,0.11,0.11,0.11,0.11,0.11,0.11,0.11,0.11,0.11,0.11,0.11,0.11,0.11,0.11,0.11,0.11,0.11,0.11,0.11,0.11,0.11,0.11,0.11,0.11,0.11];
const f3PAUu = [1.45,1.44,1.42,1.4,1.38,1.36,1.35,1.33,1.31,1.3,1.28,1.27,1.26,1.24,1.23,1.22,1.21,1.2,1.19,1.18,1.17,1.16,1.15,1.15,1.14,1.13,1.13,1.12,1.12,1.11,1.1,1.1,1.1,1.1,1.1,1.1,1.1,1.1,1.1,1.1,1.1,1.1,1.1,1.1,1.1,1.1,1.1,1.1,1.1,1.1,1.1,1.1,1.1,1.1,1.1,1.1,1.1,1.1,1.1,1.1,1.1,1.1,1.1,1.1,1.1,1.1,1.1,1.1,1.1,1.1,1.1,1.1,1.1,1.1,1.1,1.1,1.1,1.1,1.1,1.1,1.1,1.1,1.1,1.1,1.1,1.1,1.1,1.1,1.1,1.1,1.1,1.1,1.1,1.1,1.1,1.1,1.1,1.1,1.1,1.1];
const f3MEPu = [0.17,0.17,0.17,0.17,0.17,0.17,0.17,0.17,0.17,0.17,0.17,0.17,0.17,0.17,0.17,0.17,0.17,0.17,0.17,0.17,0.17,0.17,0.17,0.17,0.17,0.17,0.17,0.17,0.17,0.17,0.17,0.17,0.17,0.17,0.17,0.17,0.17,0.17,0.17,0.17,0.17,0.17,0.17,0.17,0.17,0.17,0.17,0.17,0.17,0.17,0.17,0.17,0.17,0.17,0.17,0.17,0.17,0.17,0.17,0.17,0.17,0.17,0.17,0.17,0.17,0.17,0.17,0.17,0.17,0.17,0.17,0.17,0.17,0.17,0.17,0.17,0.17,0.17,0.17,0.17,0.17,0.17,0.17,0.17,0.17,0.17,0.17,0.17,0.17,0.17,0.17,0.17,0.17,0.17,0.17,0.17,0.17,0.17,0.17,0.17];
const f3MGEu = [0.05,0.05,0.05,0.05,0.05,0.05,0.05,0.05,0.05,0.05,0.05,0.05,0.05,0.05,0.05,0.05,0.05,0.05,0.05,0.05,0.05,0.05,0.05,0.05,0.05,0.05,0.05,0.05,0.05,0.05,0.05,0.05,0.05,0.05,0.05,0.05,0.05,0.05,0.05,0.05,0.05,0.05,0.05,0.05,0.05,0.05,0.05,0.05,0.05,0.05,0.05,0.05,0.05,0.05,0.05,0.05,0.05,0.05,0.05,0.05,0.05,0.05,0.05,0.05,0.05,0.05,0.05,0.05,0.05,0.05,0.05,0.05,0.05,0.05,0.05,0.05,0.05,0.05,0.05,0.05,0.05,0.05,0.05,0.05,0.05,0.05,0.05,0.05,0.05,0.05,0.05,0.05,0.05,0.05,0.05,0.05,0.05,0.05,0.05,0.05];
const f3BTBu = [0,0,0,0,0,0,0,0,0,0,0,0,0,0,0,0,0,0,0,0,0,0,0,0,0,0,0,0,0,0,0,0,0,0,0,0,0,0,0,0,0,0,0,0,0,0,0,0,0,0,0,0,0,0,0,0,0,0,0,0,0,0,0,0,0,0,0,0,0,0,0,0,0,0,0,0,0,0,0,0,0,0,0,0,0,0,0,0,0,0,0,0,0,0,0,0,0,0,0,0];

// ---------- legend labels ----------
const legendTitle = 'Subcatchment, sediment source';
const legend1 = ['101 - KST, rural + urban', '102 - EBH', '103 - KKA', '104 - WIC', '105 - OIC', '101 - KST, urban', '102 - EBH', '103 - KKA', '104 - WHC', '105 - OIC'];
const legend2 = ['106 - DRY, rural + urban', '107 - HGA', '108 - PKA', '109 - TKI', '110 - PAS', '106 - DRY, urban', '107 - HGA', '108 - PKA', '109 - TKI', '110 - PAS'];
const legend3 = ['111 - MAW, rural + urban', '112 - PAU', '113 - MEP', '114 - MGE', '115 - BTB', '111 -MAW, urban', '112 - PAU', '113 - MEP', '114 - MGE', '115 - BTB'];

// ---------- styles ----------
const BLACK = '#000000';
const BLUE = '#0000ff';
const RED = '#ff0000';
const GREEN = '#00ff00';
const MAGENTA = '#ff00ff';
const GREY = '#444444';
const styles1 = [
  { c: BLACK, d: false }, { c: BLUE, d: false }, { c: RED, d: false }, { c: GREEN, d: false }, { c: MAGENTA, d: false },
  { c: BLACK, d: true }, { c: BLUE, d: true }, { c: RED, d: true }, { c: GREEN, d: true }, { c: MAGENTA, d: true },
];
const styles2 = [
  { c: BLACK, d: false }, { c: BLUE, d: false }, { c: RED, d: false }, { c: GREEN, d: false }, { c: MAGENTA, d: false },
  { c: GREY, d: true }, { c: BLUE, d: true }, { c: RED, d: true }, { c: GREEN, d: true }, { c: MAGENTA, d: true },
];

type PanelCfg = {
  id: string;
  hist: boolean;
  years: number[];
  series: number[][];
  names: string[];
  styles: { c: string; d: boolean }[];
  y0: number; xAxisY: number; yMax: number; ppm: number;
  x0: number; ppy: number; xMax: number; plotLeft: number;
  xTicks: number[]; labelDy: number;
};

const panels: PanelCfg[] = [
  { id: 'h1', hist: true, years: histYears, series: [h1KST, h1EBH, h1KKA, h1WIC, h1OIC, h1KSTu, h1EBHu, h1KKAu, h1WHCu, h1OICu], names: legend1, styles: styles1,
    y0: 341.7, xAxisY: 352.3, yMax: 10.5, ppm: 23.13, x0: 120, ppy: 5.517, xMax: 62, plotLeft: 114.3, xTicks: histXTicks, labelDy: 27 },
  { id: 'f1', hist: false, years: futYears, series: [f1KST, f1EBH, f1KKA, f1WIC, f1OIC, f1KSTu, f1EBHu, f1KKAu, f1WHCu, f1OICu], names: legend1, styles: styles1,
    y0: 339.4, xAxisY: 350.7, yMax: 10.5, ppm: 23.13, x0: 507.3, ppy: 3.427, xMax: 100, plotLeft: 507.3, xTicks: futXTicks, labelDy: 27 },
  { id: 'h2', hist: true, years: histYears, series: [h2DRY, h2HGA, h2PKA, h2TKI, h2PAS, h2DRYu, h2HGAu, h2PKAu, h2TKIu, h2PASu], names: legend2, styles: styles2,
    y0: 636, xAxisY: 647.3, yMax: 18.5, ppm: 23.13, x0: 122.7, ppy: 5.52, xMax: 62, plotLeft: 116, xTicks: histXTicks, labelDy: 25 },
  { id: 'f2', hist: false, years: futYears, series: [f2DRY, f2HGA, f2PKA, f2TKI, f2PAS, f2DRYu, f2HGAu, f2PKAu, f2TKIu, f2PASu], names: legend2, styles: styles2,
    y0: 631.5, xAxisY: 643.3, yMax: 18.9, ppm: 23.13, x0: 496, ppy: 3.417, xMax: 100, plotLeft: 496, xTicks: futXTicks, labelDy: 27.5 },
  { id: 'h3', hist: true, years: histYears, series: [h3MAW, h3PAU, h3MEP, h3MGE, h3BTB, h3MAWu, h3PAUu, h3MEPu, h3MGEu, h3BTBu], names: legend3, styles: styles2,
    y0: 932.7, xAxisY: 943.3, yMax: 10.5, ppm: 23.13, x0: 126, ppy: 5.53, xMax: 62, plotLeft: 120.7, xTicks: histXTicks, labelDy: 27 },
  { id: 'f3', hist: false, years: futYears, series: [f3MAW, f3PAU, f3MEP, f3MGE, f3BTB, f3MAWu, f3PAUu, f3MEPu, f3MGEu, f3BTBu], names: legend3, styles: styles2,
    y0: 927, xAxisY: 938.3, yMax: 10.5, ppm: 23.13, x0: 507.3, ppy: 3.42, xMax: 100, plotLeft: 507.3, xTicks: futXTicks, labelDy: 27.5 },
];

const makeXTick = (dy: number) => (props: any) => {
  const { x, y, payload } = props;
  const v = payload.value as number;
  const major = v % 10 === 0;
  return (
    <g>
      <line x1={x} x2={x} y1={y} y2={y + (major ? 12 : 6)} stroke="#222" strokeWidth={1.2} />
      {major ? (
        <text x={x} y={y + dy} textAnchor="middle" dominantBaseline="central" fontSize={12.5} fontFamily={FONT} fill="#111">
          {v}
        </text>
      ) : null}
    </g>
  );
};

const YTick = (props: any) => {
  const { x, y, payload } = props;
  const v = payload.value as number;
  const major = v % 2 === 0;
  return (
    <g>
      <line x1={x - (major ? 13 : 6.5)} x2={x} y1={y} y2={y} stroke="#222" strokeWidth={1.2} />
      {major ? (
        <text x={97} y={y} textAnchor="end" dominantBaseline="central" fontSize={12.5} fontFamily={FONT} fill="#111">
          {yTickLabels[v / 2]}
        </text>
      ) : null}
    </g>
  );
};

const RIGHT_PAD = 16;

function Panel({ cfg }: { cfg: PanelCfg }) {
  const yMin = -(cfg.xAxisY - cfg.y0) / cfg.ppm;
  const top = cfg.y0 - cfg.yMax * cfg.ppm;
  const plotH = cfg.xAxisY - top;
  const xMin = -(cfg.x0 - cfg.plotLeft) / cfg.ppy;
  const plotRight = cfg.x0 + cfg.xMax * cfg.ppy;
  const axisH = 50;
  const chartLeft = cfg.hist ? 0 : cfg.plotLeft - 4;
  const width = plotRight + RIGHT_PAD - chartLeft;
  const height = plotH + axisH;
  const rows = cfg.years.map((yr, i) => {
    const r: Record<string, number> = { year: yr };
    cfg.series.forEach((s, k) => {
      r['s' + k] = s[i];
    });
    return r;
  });
  return (
    <div style={{ position: 'absolute', left: chartLeft, top, width, height }}>
      <LineChart width={width} height={height} data={rows} margin={{ top: 0, right: RIGHT_PAD, bottom: 0, left: cfg.hist ? 0 : 4 }}>
        <XAxis
          type="number"
          dataKey="year"
          domain={[xMin, cfg.xMax]}
          ticks={cfg.xTicks}
          interval={0}
          height={axisH}
          axisLine={false}
          tickLine={false}
          tickSize={0}
          tickMargin={0}
          tick={makeXTick(cfg.labelDy)}
        />
        <YAxis
          type="number"
          domain={[yMin, cfg.yMax]}
          ticks={yTicks}
          interval={0}
          width={cfg.hist ? cfg.plotLeft : 0}
          hide={!cfg.hist}
          axisLine={false}
          tickLine={false}
          tickSize={0}
          tickMargin={0}
          tick={YTick}
        />
        <ReferenceLine
          segment={[{ x: 0, y: yMin }, { x: cfg.xMax, y: yMin }]}
          stroke="#222"
          strokeWidth={1.3}
          ifOverflow="visible"
        />
        {cfg.hist ? (
          <ReferenceLine
            segment={[{ x: xMin, y: 0 }, { x: xMin, y: 10 }]}
            stroke="#222"
            strokeWidth={1.3}
            ifOverflow="visible"
          />
        ) : null}
        {cfg.series.map((_, k) => (
          <Line
            key={cfg.id + k}
            type="linear"
            dataKey={'s' + k}
            name={cfg.names[k]}
            stroke={cfg.styles[k].c}
            strokeWidth={cfg.styles[k].d ? 1.5 : 1.1}
            strokeDasharray={cfg.styles[k].d ? '4 3' : undefined}
            dot={false}
            activeDot={false}
            isAnimationActive={false}
          />
        ))}
      </LineChart>
    </div>
  );
}

function LegendBox({ x, y, w, h, labels, styles }: { x: number; y: number; w: number; h: number; labels: string[]; styles: { c: string; d: boolean }[] }) {
  return (
    <g>
      <rect x={x} y={y} width={w} height={h} fill="#fff" stroke="#333" strokeWidth={1.2} />
      <text x={x + w / 2} y={y + 11.4} textAnchor="middle" dominantBaseline="central" fontSize={9.8} fontFamily={FONT} fill="#222">
        {legendTitle}
      </text>
      {labels.map((lab, i) => {
        const yy = y + 33.4 + i * 19.33;
        return (
          <g key={lab + i}>
            <line x1={901} x2={934} y1={yy} y2={yy} stroke={styles[i].c} strokeWidth={1.2} strokeDasharray={styles[i].d ? '4 3' : undefined} />
            <text x={945.7} y={yy} dominantBaseline="central" fontSize={9.8} fontFamily={FONT} fill="#222">
              {lab}
            </text>
          </g>
        );
      })}
    </g>
  );
}

const yearLabels = [
  { x: 291, y: 394 }, { x: 679, y: 394 }, { x: 293, y: 689 }, { x: 667, y: 686 }, { x: 297, y: 985 }, { x: 678, y: 981 },
];
const kgLabels = [226, 527, 822];
const fileNotes = [
  { x: 438, y: 402, a: 'asc1-5.grf', b: '/par/cal4/sed/run/out/' },
  { x: 826, y: 400.7, a: 'asc1-5.grf', b: '/par/zin5/f1/run/out/' },
  { x: 440, y: 696.5, a: 'asc6-10.grf', b: '/par/cal4/sed/run/out/' },
  { x: 814, y: 692.5, a: 'asc6-10.grf', b: '/par/zin5/f1/run/out/' },
  { x: 444, y: 992.7, a: 'asc11-15.grf', b: '/par/cal4/sed/run/out/' },
  { x: 825, y: 987.3, a: 'asc11-15.grf', b: '/par/zin5/f1/run/out/' },
];

export default function App() {
  return (
    <div style={{ position: 'absolute', left: 0, top: 0, width: 1059, height: 1007, background: '#fff', overflow: 'hidden' }}>
      <svg width={1059} height={1007} style={{ position: 'absolute', left: 0, top: 0 }}>
        <rect x={62.7} y={7.7} width={214} height={28} fill="none" stroke="#333" strokeWidth={1.2} />
        <text x={71} y={29.5} fontSize={19} fontFamily={FONT} fill="#111">HISTORICAL PERIOD</text>
        <text x={71} y={62.7} fontSize={17.6} fontFamily={FONT} fill="#111">ANNUAL SEDIMENT RUNOFF</text>
        <text x={334} y={61} fontSize={10.8} fontFamily={FONT} fill="#111">(Sum of all grainsizes)</text>
        <rect x={561} y={49} width={309} height={26} fill="none" stroke="#333" strokeWidth={1.2} />
        <text x={570.7} y={70.5} fontSize={19} fontFamily={FONT} fill="#111">FUTURE PERIOD - SCENARIO 1</text>
        {kgLabels.map((cy, i) => (
          <text key={'kg' + i} transform={`translate(17.5,${cy}) rotate(-90)`} textAnchor="middle" dominantBaseline="central" fontSize={14} fontFamily={FONT} fill="#111">
            kg
          </text>
        ))}
        {yearLabels.map((p, i) => (
          <text key={'yr' + i} x={p.x} y={p.y} textAnchor="middle" dominantBaseline="central" fontSize={15} fontFamily={FONT} fill="#111">
            Year
          </text>
        ))}
        {fileNotes.map((n, i) => (
          <g key={'fn' + i}>
            <text x={n.x} y={n.y} dominantBaseline="central" fontSize={6.5} fontFamily={FONT} fill="#333">{n.a}</text>
            <text x={n.x} y={n.y + 7.6} dominantBaseline="central" fontSize={6.5} fontFamily={FONT} fill="#333">{n.b}</text>
          </g>
        ))}
        <LegendBox x={895.7} y={119.3} w={159.6} h={218.7} labels={legend1} styles={styles1} />
        <LegendBox x={895.7} y={420} w={161.6} h={218.3} labels={legend2} styles={styles2} />
        <LegendBox x={895.7} y={719.7} w={165} h={218.6} labels={legend3} styles={styles2} />
      </svg>
      {panels.map((p) => (
        <Panel key={p.id} cfg={p} />
      ))}
    </div>
  );
}
